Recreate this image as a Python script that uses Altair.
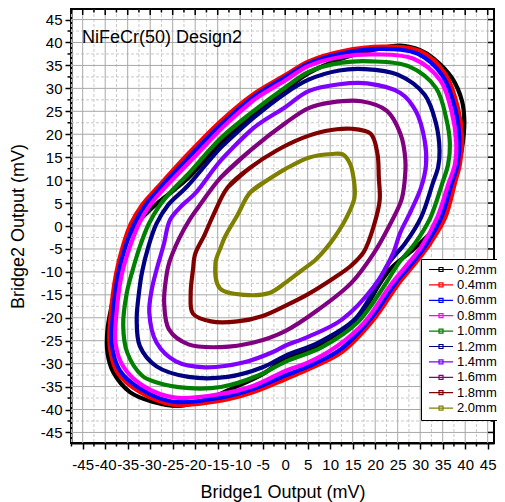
import altair as alt
import pandas as pd

# ---------------- data ----------------
series_names = ["0.2mm", "0.4mm", "0.6mm", "0.8mm", "1.0mm",
                "1.2mm", "1.4mm", "1.6mm", "1.8mm", "2.0mm"]
series_colors = ["#000000", "#ff0000", "#0000ff", "#ff00ff", "#008000",
                 "#000080", "#8000ff", "#800080", "#800000", "#808000"]

x_02 = [-32.8, -28.6, -24.5, -21.5, -14.3, -7, 0, 5.2, 12.6, 20, 25.6, 30, 33, 37.1, 39.3, 39.8, 39.3, 37.8, 36.2, 33.2, 28.6, 23.5, 21, 15.8, 7.8, 0, -5, -12, -18, -23.6, -29.5, -34.5, -38.2, -39.5, -39.5, -38.3, -37.2, -35.6, -32.8]
y_02 = [0.8, 4.8, 8, 10.5, 18.2, 24.4, 29.6, 33.3, 36.5, 38.5, 39.3, 38.3, 36.5, 32.2, 27.2, 22.9, 17, 10.5, 4.5, -0.5, -5, -9.2, -12.6, -20.6, -25.9, -28.9, -32.3, -35.5, -38, -39.2, -38.3, -36.2, -31.9, -27.6, -22.6, -16, -9.6, -4, 0.8]

x_04 = [-34.3, -31.8, -28.3, -21.5, -14.3, -7, 0, 5.2, 12.6, 21.9, 30, 35.6, 38.4, 39.3, 38.8, 37.7, 35.6, 32.3, 28.9, 25.3, 19.5, 12.6, 5.2, 0, -7, -14.3, -25.2, -32.3, -37.3, -39, -38.8, -37.6, -36.1, -34.3]
y_04 = [0.5, 4.6, 8.5, 15.8, 22.9, 28.8, 32.9, 35.9, 38.1, 39.1, 38.1, 33.1, 25.7, 19.2, 13.4, 9.3, 1.9, -3.7, -8.1, -12.4, -20.6, -27.5, -31.2, -33.4, -36.2, -38.1, -38.9, -36.2, -31.9, -26.2, -19.6, -10.5, -4.5, 0.5]

x_06 = [-33.5, -31, -27.6, -21, -13.9, -6.8, 0, 5.2, 12.6, 21.5, 29.5, 35, 37.8, 38.7, 38.3, 37, 34.7, 31.3, 28.2, 24.7, 19, 12.3, 5.1, 0, -7, -14.3, -25, -32, -36.8, -38.5, -38.3, -37.1, -35.5, -33.5]
y_06 = [0.5, 4.6, 8.5, 15.4, 22.4, 28.3, 32.4, 35.4, 37.6, 38.6, 37.5, 32.7, 25.4, 19, 13.4, 9.3, 1.9, -4.1, -8.1, -12.2, -20.2, -26.9, -30.6, -32.6, -35.5, -37.4, -38.3, -35.6, -31.4, -26, -19.6, -10.5, -4.5, 0.5]

x_08 = [-32.5, -30, -26.8, -20.5, -13.8, -6.8, 0, 5.2, 12.6, 20, 28.4, 34.5, 37, 38, 37.7, 36.3, 33.8, 30.2, 26.7, 23.4, 17.5, 11.5, 5, 0, -7, -14.3, -24.5, -31.5, -36, -37.7, -37.5, -36.3, -34.5, -32.5]
y_08 = [0.5, 4.6, 8.3, 14.7, 21.6, 27.6, 31.7, 34.9, 36.9, 37.4, 36.5, 31.7, 24.9, 18.4, 13.4, 9.3, 1.9, -4.6, -8.9, -12.9, -21.1, -26.2, -29.8, -31.6, -34.8, -36.6, -37.4, -34.9, -30.6, -25.6, -19.1, -10.5, -4.5, 0.5]

x_10 = [-30.3, -27.8, -25, -21.5, -14.3, -7, 0, 5.2, 12.6, 19, 27.5, 33.5, 35.8, 36.6, 36.2, 34.9, 32.3, 28.9, 25.2, 22.3, 16.1, 8.2, 0, -6, -14.3, -22, -28.5, -31.7, -35.1, -36, -35.2, -34, -32.3, -30.3]
y_10 = [0.5, 4.6, 7.9, 11.4, 19.2, 25.1, 30.2, 33.6, 35.6, 35.9, 34.8, 30.1, 23.4, 17.9, 13.4, 9.3, 1.9, -3.7, -8.1, -12.6, -21, -26.4, -29.6, -32.6, -35.1, -35.3, -34.1, -32.7, -27.6, -21.6, -14.6, -10, -4.5, 0.5]

x_12 = [-28.6, -26, -21.8, -14.3, -7, 0, 5.2, 12, 17.6, 25, 31, 33.5, 34.3, 34, 32.8, 30.2, 26.7, 23, 20.8, 15.4, 7.4, 0, -5, -12.8, -21.5, -28.6, -32.3, -33, -32.5, -31.8, -30.4, -28.6]
y_12 = [0.5, 4.6, 8.6, 17.1, 23.6, 28.9, 31.9, 33.9, 34.2, 33, 28.6, 22.4, 16.4, 12.9, 9.3, 1.9, -3.7, -8.1, -12.1, -20.4, -25.4, -28.3, -30.8, -32.9, -32.9, -30.6, -26.2, -20.4, -14.6, -10, -4.5, 0.5]

x_14 = [-25.6, -23, -20, -14.3, -7, 0, 5.2, 12, 18.2, 25.6, 29, 31, 31.3, 30.2, 28, 25.5, 24, 19.7, 12.6, 5.2, 0, -2.6, -9.1, -17.8, -24.3, -28.6, -30.2, -29.6, -28.6, -27, -25.6]
y_14 = [1.3, 4.4, 7.1, 14.3, 21.4, 25.9, 29.4, 30.9, 31.1, 29, 25.1, 18.6, 13.4, 8.4, 3.4, -1.6, -5.9, -13.2, -20.4, -24.1, -26.1, -27.4, -29.7, -30.8, -29.5, -25.4, -18.9, -13.6, -9.6, -4.1, 1.3]

x_16 = [-21.3, -19.3, -14.3, -7, 0, 5.2, 10, 16.9, 22.6, 25.6, 26.7, 26.5, 25.8, 23, 19.7, 14.7, 7.4, 0, -7, -14.3, -21.5, -25.8, -26.9, -26.5, -25.8, -23.5, -21.3]
y_16 = [1.3, 4.1, 10.6, 17.1, 22.4, 25.7, 26.9, 27.2, 25.1, 20.1, 14.4, 9.4, 5.6, -0.2, -5.9, -12.4, -18.2, -22.9, -25.4, -26.4, -25.8, -22.6, -16.7, -11.6, -8.1, -2.6, 1.3]

x_18 = [-16, -12.8, -7.8, -2, 3.9, 8.9, 14.7, 19, 20.5, 20.8, 21, 19.8, 17.5, 14.7, 10.4, 5, 0, -5, -10.6, -16.5, -20.5, -21, -20.5, -20, -18, -16]
y_18 = [2.3, 8.4, 12.7, 16.4, 19.2, 20.7, 21.2, 20.1, 15.7, 10.6, 5.6, 0.4, -5.6, -8.6, -11.6, -14.9, -17.4, -19.6, -20.8, -20.8, -19.1, -14.6, -9.6, -6.1, -2.1, 2.3]

x_20 = [-10.6, -7.8, -4.1, 0, 5.2, 10.4, 12.8, 14.4, 15.2, 15.4, 13.5, 11, 8.9, 6.7, 3.5, 0, -3.5, -9.1, -14.5, -15.5, -14.3, -13.4, -10.6]
y_20 = [2.4, 7.3, 9.9, 12.4, 14.9, 15.7, 15.6, 13.6, 10.4, 6.2, 1.6, -2.4, -5.1, -7.4, -9.8, -12.4, -14.6, -15, -13.6, -8.1, -4.6, -2.4, 2.4]

curves = [(x_02, y_02), (x_04, y_04), (x_06, y_06), (x_08, y_08), (x_10, y_10),
          (x_12, y_12), (x_14, y_14), (x_16, y_16), (x_18, y_18), (x_20, y_20)]

major_ticks = [-45, -40, -35, -30, -25, -20, -15, -10, -5, 0, 5, 10, 15, 20, 25, 30, 35, 40, 45]
minor_x = [-47.5, -42.5, -37.5, -32.5, -27.5, -22.5, -17.5, -12.5, -7.5, -2.5,
           2.5, 7.5, 12.5, 17.5, 22.5, 27.5, 32.5, 37.5, 42.5]
minor_y = [-42.5, -37.5, -32.5, -27.5, -22.5, -17.5, -12.5, -7.5, -2.5,
           2.5, 7.5, 12.5, 17.5, 22.5, 27.5, 32.5, 37.5, 42.5]
X_DOMAIN = [-47.6, 46.4]
Y_DOMAIN = [-47.3, 47.3]
title_text = "NiFeCr(50) Design2"
x_title = "Bridge1 Output (mV)"
y_title = "Bridge2 Output (mV)"

# ---------------- build ----------------
rows = []
for name, (xs, ys) in zip(series_names, curves):
    pts = list(zip(xs, ys))
    if pts[0] == pts[-1]:
        pts = pts[:-1]
    # start the closed loop on the flat upper-left flank so the seam is invisible
    k = max(range(len(pts)), key=lambda j: pts[j][1] - pts[j][0])
    pts = pts[k:] + pts[:k]
    pts = pts + pts[:2]
    for i, (a, b) in enumerate(pts):
        rows.append({"series": name, "i": i, "x": a, "y": b})
df = pd.DataFrame(rows)

W, H = 423, 434
FONT = "Liberation Sans"

xscale = alt.Scale(domain=X_DOMAIN, nice=False, zero=False)
yscale = alt.Scale(domain=Y_DOMAIN, nice=False, zero=False)

common_axis = dict(values=major_ticks, grid=False, tickSize=6, tickWidth=1.5,
                   tickColor="black", labelFontSize=15, labelFont=FONT,
                   labelColor="black", titleFontSize=18, titleFont=FONT,
                   titleFontWeight="normal", titleColor="black",
                   domainColor="black", domainWidth=2, labelOverlap=False,
                   labelFlush=False, labelExpr="'' + datum.value")
xaxis = alt.Axis(title=x_title, labelPadding=8, titlePadding=11, **common_axis)
yaxis = alt.Axis(title=y_title, labelPadding=3, titlePadding=13, **common_axis)

X = lambda f: alt.X(f, scale=xscale, axis=xaxis)
Y = lambda f: alt.Y(f, scale=yscale, axis=yaxis)

vx_minor = pd.DataFrame({"v": minor_x})
vy_minor = pd.DataFrame({"v": minor_y})
v_major = pd.DataFrame({"v": major_ticks})

layers = []
# minor dashed grid
layers.append(alt.Chart(vx_minor).mark_rule(color="#c8c8c8", strokeWidth=1, strokeDash=[3, 2]).encode(x=X("v:Q")))
layers.append(alt.Chart(vy_minor).mark_rule(color="#c8c8c8", strokeWidth=1, strokeDash=[3, 2]).encode(y=Y("v:Q")))
# major grid
layers.append(alt.Chart(v_major).mark_rule(color="#a8a8a8", strokeWidth=1).encode(x=X("v:Q")))
layers.append(alt.Chart(v_major).mark_rule(color="#a8a8a8", strokeWidth=1).encode(y=Y("v:Q")))

legend = alt.Legend(title=None, orient="none", legendX=350, legendY=250,
                    fillColor="white", strokeColor="black", padding=4,
                    labelFontSize=13, labelFont=FONT, labelColor="black",
                    symbolType="M-0.45,0H3.91M1.37,-0.36H2.09V0.36H1.37Z",
                    symbolSize=121, symbolStrokeWidth=1.2, rowPadding=1.4,
                    labelOffset=19, cornerRadius=0)
color = alt.Color("series:N", scale=alt.Scale(domain=series_names, range=series_colors),
                  legend=legend)

for name in series_names:
    layers.append(
        alt.Chart(df).transform_filter(alt.datum.series == name)
        .mark_line(strokeWidth=4.2, interpolate="catmull-rom")
        .encode(x=X("x:Q"), y=Y("y:Q"), color=color, order="i:Q")
    )

# top inward ticks, bottom outward minor ticks
layers.append(alt.Chart(v_major).mark_rule(color="black", strokeWidth=1.5).encode(x=X("v:Q"), y=alt.value(0), y2=alt.value(6)))
layers.append(alt.Chart(vx_minor).mark_rule(color="black", strokeWidth=1.5).encode(x=X("v:Q"), y=alt.value(0), y2=alt.value(3.5)))
layers.append(alt.Chart(vx_minor).mark_rule(color="black", strokeWidth=1.5).encode(x=X("v:Q"), y=alt.value(H), y2=alt.value(H + 3.5)))
# right inward ticks, left outward minor ticks
layers.append(alt.Chart(v_major).mark_rule(color="black", strokeWidth=1.5).encode(y=Y("v:Q"), x=alt.value(W), x2=alt.value(W - 6)))
layers.append(alt.Chart(vy_minor).mark_rule(color="black", strokeWidth=1.5).encode(y=Y("v:Q"), x=alt.value(W), x2=alt.value(W - 3.5)))
layers.append(alt.Chart(vy_minor).mark_rule(color="black", strokeWidth=1.5).encode(y=Y("v:Q"), x=alt.value(0), x2=alt.value(-3.5)))

# in-plot title
layers.append(
    alt.Chart(pd.DataFrame({"t": [title_text]}))
    .mark_text(align="left", baseline="alphabetic", fontSize=18, font=FONT, color="black")
    .encode(text="t:N", x=alt.value(11), y=alt.value(34))
)

chart = (
    alt.layer(*layers)
    .properties(width=W, height=H, autosize=alt.AutoSizeParams(type="none"),
                padding={"left": 63, "top": 1, "right": 3, "bottom": 59})
    .configure_view(stroke="black", strokeWidth=2)
)

chart.save("out.html", embed_options={"renderer": "svg", "actions": False})
